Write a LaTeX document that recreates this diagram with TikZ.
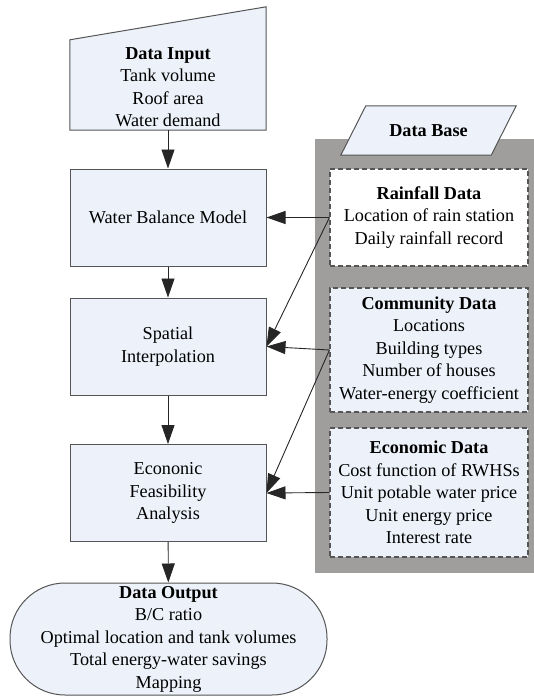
\documentclass[tikz,border=0pt]{standalone}
\usepackage{fontspec}
\setmainfont{Liberation Serif}
\usetikzlibrary{arrows.meta}

\definecolor{boxblue}{RGB}{237,242,250}
\definecolor{basegray}{RGB}{160,157,157}
\definecolor{edgegray}{RGB}{85,85,85}

\begin{document}
\begin{tikzpicture}[x=1pt, y=-1pt,
	font=\fontsize{18.2}{22.5}\selectfont,
	block/.style={draw=edgegray, line width=1pt, fill=boxblue, minimum width=196pt, minimum height=97pt, align=center, inner sep=0pt},
	datablock/.style={draw=edgegray, line width=1.1pt, dash pattern=on 5pt off 3pt, fill=boxblue, minimum width=198pt, align=center, inner sep=0pt},
	flow/.style={draw=black!85, line width=0.9pt, -{Triangle[length=19pt, width=13pt]}}
]
\useasboundingbox (0,0) rectangle (534,698);
% data base background
\fill[basegray] (315,139) rectangle (534,573);

% main flow
\node[minimum width=196pt, minimum height=123pt, inner sep=0pt] (input) at (168,68.5) {};
\draw[draw=edgegray, line width=1pt, fill=boxblue] (input.south west) -- (input.south east) -- (input.north east) -- ([yshift=-33pt]input.north west) -- cycle;
\node[align=center] (inputtxt) at (168,87) {\textbf{Data Input}\\Tank volume\\Roof area\\Water demand};
\node[block] (wbm) at (168,217.5) {Water Balance Model};
\node[block] (spatial) at (168,346.5) {Spatial\\Interpolation};
\node[block] (econ) at (168,493) {Econonic\\Feasibility\\Analysis};
\node[block, minimum width=317pt, minimum height=112pt, rounded corners=55pt] (output) at (168.5,639) {\textbf{Data Output}\\B/C ratio\\Optimal location and tank volumes\\Total energy-water savings\\Mapping};

% data base
\node[minimum width=150pt, minimum height=49pt, inner sep=0pt] (base) at (428.5,130.5) {};
\draw[draw=edgegray, line width=1pt, fill=boxblue] ([xshift=-12.5pt]base.south west) -- ([xshift=-12.5pt]base.south east) -- ([xshift=12.5pt]base.north east) -- ([xshift=12.5pt]base.north west) -- cycle;
\node (basetxt) at (base) {\textbf{Data Base}};
\node[datablock, fill=white, minimum height=97pt] (rain) at (429,217.5) {\textbf{Rainfall Data}\\Location of rain station\\Daily rainfall record};
\node[datablock, minimum height=124pt] (comm) at (429,350) {\textbf{Community Data}\\Locations\\Building types\\Number of houses\\Water-energy coefficient};
\node[datablock, minimum height=129pt] (econdata) at (429,492.5) {\textbf{Economic Data}\\Cost function of RWHSs\\Unit potable water price\\Unit energy price\\Interest rate};

% arrows
\draw[flow] (input) -- (wbm);
\draw[flow] (wbm) -- (spatial);
\draw[flow] (spatial) -- (econ);
\draw[flow] (econ) -- (output);
\draw[flow] (rain.west) -- (wbm.east);
\draw[flow] (rain.west) -- (spatial.east);
\draw[flow] (comm.west) -- (spatial.east);
\draw[flow] (comm.west) -- (econ.east);
\draw[flow] (econdata.west) -- (econ.east);
\end{tikzpicture}
\end{document}
